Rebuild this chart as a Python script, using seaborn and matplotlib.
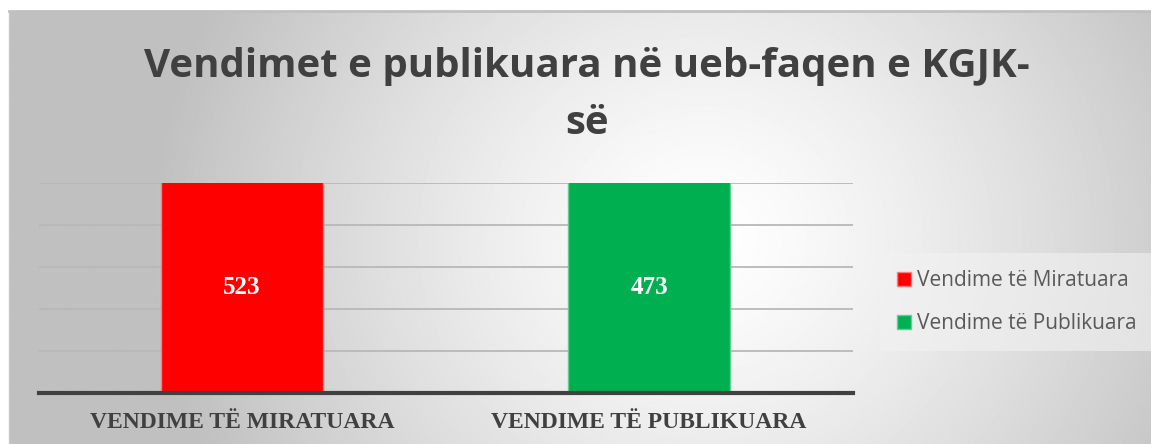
import numpy as np
import pandas as pd
import matplotlib.pyplot as plt
import seaborn as sns
from matplotlib.patches import Patch

# Data
categories = ["VENDIME TË MIRATUARA", "VENDIME TË PUBLIKUARA"]
series = ["Vendime të Miratuara", "Vendime të Publikuara"]
values = [523, 473]
colors = ["#FF0000", "#00B050"]
edge_colors = ["#ff7a7a", "#5fd08f"]

df = pd.DataFrame({"cat": categories, "series": series, "value": values})

sns.set_theme(style="white")
plt.rcParams["font.family"] = ["Open Sans", "DejaVu Sans"]

fig = plt.figure(figsize=(11.51, 4.44), dpi=100)
fig.patch.set_facecolor("white")

# Gradient background of the chart box
bg = fig.add_axes([9 / 1151, 0, 1 - 9 / 1151, 1 - 11 / 444])
h, w = 440, 1150
yy, xx = np.mgrid[0:h, 0:w]
d = np.sqrt(((xx - 700) / 560.0) ** 2 + ((yy - 230) / 520.0) ** 2)
shade = 1 - 0.25 * np.clip(d, 0, 1) ** 1.3
bg.imshow(shade, cmap="gray", vmin=0, vmax=1, aspect="auto", interpolation="bilinear")
bg.set_xticks([])
bg.set_yticks([])
for s in bg.spines.values():
    s.set_visible(False)
bg.spines["top"].set_visible(True)
bg.spines["top"].set_color("#c0c0c0")
bg.spines["top"].set_linewidth(2)
bg.spines["left"].set_visible(True)
bg.spines["left"].set_color("#c8c8c8")
bg.spines["left"].set_linewidth(1)

# Main plot
ax = fig.add_axes([38.5 / 1151, 51 / 444, 814 / 1151, 210 / 444])
ax.patch.set_alpha(0)
sns.barplot(data=df, x="cat", y="value", hue="series", palette=colors,
            dodge=False, width=0.396, legend=False, ax=ax, saturation=1)
for bar, ec in zip(ax.patches, edge_colors):
    bar.set_edgecolor(ec)
    bar.set_linewidth(1)

ymax = 450
ax.set_ylim(0, ymax)
ax.set_xlim(-0.5, 1.5)
ax.set_yticks(np.arange(0, ymax + 1, ymax / 5))
ax.yaxis.grid(True, color="#b8b8b8", linewidth=1.3)
ax.set_axisbelow(True)
ax.tick_params(axis="y", left=False, labelleft=False)
ax.tick_params(axis="x", bottom=False, pad=8)
for s in ["top", "right", "left"]:
    ax.spines[s].set_visible(False)
ax.spines["bottom"].set_color("#404040")
ax.spines["bottom"].set_linewidth(3)
ax.set_xlabel("")
ax.set_ylabel("")
for lbl in ax.get_xticklabels():
    lbl.set_fontfamily("Liberation Serif")
    lbl.set_fontweight("bold")
    lbl.set_fontsize(17)
    lbl.set_color("#404040")

# Value labels (centered in visible bar)
for i, v in enumerate(values):
    ax.text(i, ymax / 2, str(v), ha="center", va="center", color="white",
            fontsize=18, fontweight="bold", family="Liberation Serif")

# Title
fig.text(0.51, 1 - 95 / 444, "Vendimet e publikuara në ueb-faqen e KGJK-\nsë",
         ha="center", va="center", fontsize=29, fontweight="bold",
         color="#404040", linespacing=1.6)

# Legend
handles = [Patch(facecolor=c, edgecolor=ec) for c, ec in zip(colors, edge_colors)]
leg = fig.legend(handles, series, loc="center left",
                 bbox_to_anchor=(870 / 1151, 1 - 302 / 444), frameon=True,
                 fontsize=15, handlelength=0.65, handleheight=0.65,
                 handletextpad=0.3, labelspacing=1.05, borderpad=0.8)
leg.get_frame().set_facecolor("#f2f2f2")
leg.get_frame().set_alpha(0.6)
leg.get_frame().set_edgecolor("none")
leg.get_frame().set_boxstyle("square", pad=0)
for t in leg.get_texts():
    t.set_color("#595959")

plt.savefig("out.png", dpi=100)
plt.clf()
